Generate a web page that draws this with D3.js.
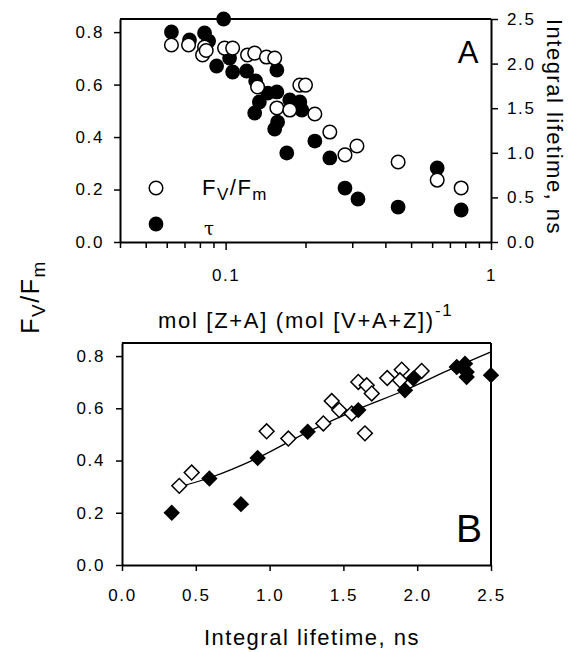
<!DOCTYPE html>
<html>
<head>
<meta charset="utf-8">
<script src="https://cdn.jsdelivr.net/npm/d3@7"></script>
<style>
  body { margin: 0; background: #fff; }
  svg text { font-family: Arial, "Liberation Sans", sans-serif; fill: #000; }
</style>
</head>
<body>
<div id="chart"></div>
<script>
const width = 572, height = 652;

// panel A: x = mol [Z+A] / mol [V+A+Z]
const fvfmX = [0.0625, 0.0725, 0.0833, 0.0819, 0.0845, 0.0991, 0.1063, 0.121, 0.1287, 0.1425, 0.1531,
  0.132, 0.1904, 0.200, 0.156, 0.1745, 0.2169, 0.247, 0.2817, 0.3125, 0.4467, 0.627, 0.772];
const fvfmY = [0.751, 0.751, 0.743, 0.713, 0.730, 0.739, 0.739, 0.713, 0.720, 0.705, 0.701,
  0.591, 0.598, 0.598, 0.511, 0.503, 0.488, 0.419, 0.332, 0.366, 0.305, 0.236, 0.206];

const tauX = [0.0625, 0.0983, 0.0731, 0.0833, 0.0863, 0.0925, 0.1035, 0.1063, 0.120, 0.1298, 0.156,
  0.134, 0.1287, 0.156, 0.1745, 0.1904, 0.1937, 0.157, 0.1531, 0.170, 0.1441, 0.2169, 0.247,
  0.2817, 0.3153, 0.4467, 0.627, 0.772];
const tauY = [2.354, 2.50, 2.265, 2.343, 2.253, 1.973, 2.063, 1.906, 1.917, 1.805, 1.928,
  1.570, 1.446, 1.682, 1.592, 1.570, 1.480, 1.345, 1.267, 0.998, 1.670, 1.132, 0.942,
  0.605, 0.482, 0.392, 0.830, 0.359];

// panel B: Fv/Fm vs integral lifetime
const openLifetime = [0.388, 0.472, 0.980, 1.127, 1.364, 1.421, 1.472, 1.556, 1.601, 1.658, 1.692,
  1.646, 1.797, 1.895, 1.883, 2.030];
const openFvFm = [0.303, 0.354, 0.512, 0.484, 0.542, 0.628, 0.593, 0.580, 0.701, 0.688, 0.657,
  0.504, 0.716, 0.748, 0.707, 0.743];
const filledLifetime = [0.337, 0.592, 0.806, 0.919, 1.258, 1.601, 1.917, 1.974, 2.268, 2.324, 2.335, 2.335, 2.5];
const filledFvFm = [0.200, 0.331, 0.233, 0.410, 0.510, 0.593, 0.669, 0.714, 0.758, 0.771, 0.739, 0.720, 0.727];

const fitX = [0.36, 0.6, 0.92, 1.26, 1.6, 1.92, 2.21, 2.5];
const fitY = [0.295, 0.335, 0.41, 0.51, 0.597, 0.67, 0.745, 0.816];

const logTicks = [0.04, 0.05, 0.06, 0.07, 0.08, 0.09, 0.1, 0.2, 0.3, 0.4, 0.5, 0.6, 0.7, 0.8, 0.9, 1];
const fvTicks = [0, 0.2, 0.4, 0.6, 0.8];
const tauTicks = [0, 0.5, 1, 1.5, 2, 2.5];
const lifeTicks = [0, 0.5, 1, 1.5, 2, 2.5];

const svg = d3.select("#chart").append("svg")
  .attr("width", width)
  .attr("height", height);

function styleAxis(g) {
  g.selectAll("path.domain").attr("stroke", "#000").attr("stroke-width", 2);
  g.selectAll(".tick line").attr("stroke", "#000").attr("stroke-width", 1.5);
  g.selectAll(".tick text").attr("font-size", 17).attr("letter-spacing", "1.6px")
    .attr("font-family", "Arial, 'Liberation Sans', sans-serif");
}

// ---------- panel A ----------
const xA = d3.scaleLog().domain([0.04, 1]).range([120, 491]);
const yAL = d3.scaleLinear().domain([0, 0.85]).range([242, 19]);
const yAR = d3.scaleLinear().domain([0, 2.5]).range([242, 19]);

svg.append("line").attr("x1", 120).attr("x2", 491).attr("y1", 19).attr("y2", 19)
  .attr("stroke", "#000").attr("stroke-width", 2);

svg.append("g").attr("transform", "translate(0,242)")
  .call(d3.axisBottom(xA).tickValues(logTicks).tickSizeOuter(0).tickPadding(21)
    .tickFormat(d => (d === 0.1 ? "0.1" : d === 1 ? "1" : "")))
  .call(styleAxis)
  .call(g => g.selectAll(".tick line").attr("y2", d => (d === 0.1 || d === 1) ? 8 : 6));

svg.append("g").attr("transform", "translate(120,0)")
  .call(d3.axisLeft(yAL).tickValues(fvTicks).tickFormat(d3.format(".1f")).tickSize(6).tickSizeOuter(0).tickPadding(10))
  .call(styleAxis);

svg.append("g").attr("transform", "translate(491,0)")
  .call(d3.axisRight(yAR).tickValues(tauTicks).tickFormat(d3.format(".1f")).tickSize(7).tickSizeOuter(0).tickPadding(9))
  .call(styleAxis);

svg.append("g").selectAll("circle")
  .data(d3.zip(tauX, tauY))
  .join("circle")
  .attr("cx", d => xA(d[0]))
  .attr("cy", d => yAR(d[1]))
  .attr("r", 7.4)
  .attr("fill", "#000");

svg.append("g").selectAll("circle")
  .data(d3.zip(fvfmX, fvfmY))
  .join("circle")
  .attr("cx", d => xA(d[0]))
  .attr("cy", d => yAL(d[1]))
  .attr("r", 6.8)
  .attr("fill", "#fff")
  .attr("stroke", "#000")
  .attr("stroke-width", 1.5);

// legend
svg.append("circle").attr("cx", 156).attr("cy", 188).attr("r", 6.8)
  .attr("fill", "#fff").attr("stroke", "#000").attr("stroke-width", 1.5);
svg.append("circle").attr("cx", 156).attr("cy", 224).attr("r", 7.4).attr("fill", "#000");

const legT = svg.append("text").attr("x", 202).attr("y", 195).attr("font-size", 22)
  .attr("letter-spacing", "1.5px");
legT.append("tspan").text("F");
legT.append("tspan").attr("font-size", 17).attr("dy", 5).text("V");
legT.append("tspan").attr("dy", -5).text("/F");
legT.append("tspan").attr("font-size", 17).attr("dy", 5).text("m");

svg.append("text").attr("x", 204).attr("y", 235).attr("font-size", 18)
  .style("font-family", "'DejaVu Serif', serif").text("τ");

svg.append("text").attr("x", 468).attr("y", 63).attr("text-anchor", "middle")
  .attr("font-size", 31).text("A");

svg.append("text")
  .attr("transform", "translate(547,127) rotate(90)")
  .attr("text-anchor", "middle").attr("font-size", 22).attr("letter-spacing", "1.5px")
  .text("Integral lifetime, ns");

// x title for panel A
const xtA = svg.append("text").attr("x", 158).attr("y", 328).attr("font-size", 22)
  .attr("letter-spacing", "1.7px");
xtA.append("tspan").text("mol [Z+A] (mol [V+A+Z])");
xtA.append("tspan").attr("font-size", 17).attr("dy", -12).text("-1");

// shared y title
const yt = svg.append("text")
  .attr("transform", "translate(39,297) rotate(-90)")
  .attr("text-anchor", "middle").attr("font-size", 25).attr("letter-spacing", "1.5px");
yt.append("tspan").text("F");
yt.append("tspan").attr("font-size", 19).attr("dy", 6).text("V");
yt.append("tspan").attr("dy", -6).text("/F");
yt.append("tspan").attr("font-size", 19).attr("dy", 6).text("m");

// ---------- panel B ----------
const xB = d3.scaleLinear().domain([0, 2.5]).range([122, 491]);
const yB = d3.scaleLinear().domain([0, 0.85]).range([565, 343]);

svg.append("line").attr("x1", 122).attr("x2", 491).attr("y1", 343).attr("y2", 343)
  .attr("stroke", "#000").attr("stroke-width", 2);
svg.append("line").attr("x1", 491).attr("x2", 491).attr("y1", 343).attr("y2", 565)
  .attr("stroke", "#000").attr("stroke-width", 2);

svg.append("g").attr("transform", "translate(0,565)")
  .call(d3.axisBottom(xB).tickValues(lifeTicks).tickFormat(d3.format(".1f")).tickSize(6).tickSizeOuter(0).tickPadding(18))
  .call(styleAxis);

svg.append("g").attr("transform", "translate(122,0)")
  .call(d3.axisLeft(yB).tickValues(fvTicks).tickFormat(d3.format(".1f")).tickSize(6).tickSizeOuter(0).tickPadding(11))
  .call(styleAxis);

svg.append("path")
  .datum(d3.zip(fitX, fitY))
  .attr("fill", "none")
  .attr("stroke", "#000")
  .attr("stroke-width", 1.3)
  .attr("d", d3.line().x(d => xB(d[0])).y(d => yB(d[1])).curve(d3.curveMonotoneX));

const diamond = d3.symbol().type(d3.symbolSquare);
svg.append("g").selectAll("path")
  .data(d3.zip(openLifetime, openFvFm))
  .join("path")
  .attr("transform", d => `translate(${xB(d[0])},${yB(d[1])}) rotate(45)`)
  .attr("d", diamond.size(110)())
  .attr("fill", "#fff")
  .attr("stroke", "#000")
  .attr("stroke-width", 1.5);

svg.append("g").selectAll("path")
  .data(d3.zip(filledLifetime, filledFvFm))
  .join("path")
  .attr("transform", d => `translate(${xB(d[0])},${yB(d[1])}) rotate(45)`)
  .attr("d", diamond.size(135)())
  .attr("fill", "#000");

svg.append("text").attr("x", 469).attr("y", 542).attr("text-anchor", "middle")
  .attr("font-size", 39).text("B");

svg.append("text").attr("x", 312).attr("y", 645).attr("text-anchor", "middle")
  .attr("font-size", 22).attr("letter-spacing", "1.5px").text("Integral lifetime, ns");
</script>
</body>
</html>
